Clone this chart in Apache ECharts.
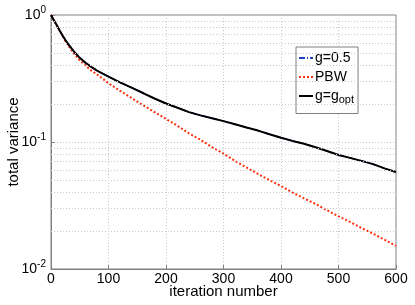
<!DOCTYPE html>
<html>
<head>
<meta charset="utf-8">
<script src="https://cdn.jsdelivr.net/npm/echarts@6/dist/echarts.min.js"></script>
<style>html,body{margin:0;padding:0;background:#fff;}#c{width:415px;height:305px;}</style>
</head>
<body>
<div id="c"></div>
<script>
var iters = [0,5,10,15,20,25,30,40,50,60,70,80,90,100,120,140,160,180,200,220,240,260,280,300,320,340,360,380,400,420,440,460,480,500,520,540,560,580,600];
var gOpt = [1.0,0.91,0.83,0.755,0.69,0.635,0.59,0.515,0.46,0.42,0.39,0.365,0.345,0.327,0.295,0.268,0.243,0.22,0.201,0.186,0.172,0.162,0.154,0.146,0.138,0.13,0.123,0.115,0.108,0.102,0.097,0.091,0.085,0.079,0.075,0.071,0.067,0.062,0.058];
var pbw = [1.0,0.91,0.83,0.75,0.685,0.625,0.575,0.495,0.44,0.40,0.365,0.34,0.315,0.29,0.253,0.222,0.195,0.172,0.152,0.134,0.117,0.104,0.091,0.081,0.071,0.063,0.056,0.05,0.045,0.040,0.036,0.0325,0.029,0.026,0.0235,0.021,0.019,0.017,0.0152];
var g05 = [1.0,0.91,0.83,0.755,0.69,0.635,0.59,0.515,0.46,0.42,0.39,0.365,0.345,0.327,0.295,0.268,0.243,0.22,0.201,0.186,0.172,0.162,0.154,0.146,0.138,0.13,0.123,0.115,0.108,0.102,0.097,0.091,0.085,0.079,0.075,0.071,0.067,0.062,0.058];
var minorGrid = [0.02,0.03,0.04,0.05,0.06,0.07,0.08,0.09,0.2,0.3,0.4,0.5,0.6,0.7,0.8,0.9];
var xTicks = [0,100,200,300,400,500,600];

function pairs(v){ return iters.map(function(x,i){ return [x, v[i]]; }); }
var font = 'Liberation Sans, Arial, sans-serif';
var chart = echarts.init(document.getElementById('c'), null, {renderer:'canvas'});
chart.setOption({
  animation: false,
  backgroundColor: '#fff',
  grid: {left: 51, right: 19, top: 15, bottom: 36, containLabel: false, outerBoundsMode: 'none',
    show: true, borderColor: '#808080', borderWidth: 1, backgroundColor: '#fff'},
  legend: {
    orient: 'vertical', left: 296, top: 47,
    backgroundColor: '#fff', borderColor: '#808080', borderWidth: 1,
    padding: [4, 4, 8, 2], itemGap: 5, itemWidth: 14, itemHeight: 13,
    itemStyle: {opacity: 0},
    textStyle: {fontFamily: font, fontSize: 14, color: '#000', padding: [0,0,0,-3],
      rich: {n: {fontFamily: font, fontSize: 14, color: '#000'}, sub: {fontFamily: font, fontSize: 11, color: '#000', padding: [8,0,0,0]}}},
    formatter: function(name){ return name === 'g=gopt' ? '{n|g=g}{sub|opt}' : name; },
    data: ['g=0.5', 'PBW', 'g=gopt']
  },
  xAxis: {
    type: 'value', min: 0, max: 600, interval: 100,
    name: 'iteration number', nameLocation: 'middle', nameGap: 15, nameMoveOverlap: false,
    nameTextStyle: {fontFamily: font, fontSize: 15, color: '#000'},
    axisLine: {show: true, lineStyle: {color: '#808080'}},
    axisTick: {show: true, inside: true, length: 4, lineStyle: {color: '#808080'}},
    axisLabel: {fontFamily: font, fontSize: 14, color: '#000', margin: 3,
      formatter: function(v){ return xTicks.indexOf(v) >= 0 ? String(v) : ''; }},
    splitLine: {show: true, lineStyle: {color: '#c8c8c8', type: [1, 2], width: 1}}
  },
  yAxis: {
    type: 'log', logBase: 10, min: 0.01, max: 1,
    name: 'total variance', nameLocation: 'middle', nameGap: 30, nameMoveOverlap: false,
    nameTextStyle: {fontFamily: font, fontSize: 15, color: '#000'},
    axisLine: {show: true, lineStyle: {color: '#808080'}},
    axisTick: {show: true, inside: true, length: 4, lineStyle: {color: '#808080'}},
    axisLabel: {fontFamily: font, fontSize: 14, color: '#000', margin: 5,
      formatter: function(v){ var e = Math.round(Math.log10(v)); return '{b|10}{s|' + e + '}'; },
      rich: {b: {fontFamily: font, fontSize: 14, color: '#000'}, s: {fontFamily: font, fontSize: 10, color: '#000', padding: [0,0,10,0]}}},
    splitLine: {show: true, lineStyle: {color: '#c8c8c8', type: [1, 2], width: 1}}
  },
  series: [
    {name: 'g=0.5', type: 'line', data: pairs(g05), symbol: 'none', z: 2,
     lineStyle: {color: '#1f3fbf', width: 1.5, type: [6, 2, 1, 2]}, itemStyle: {color: '#1f3fbf'},
     markLine: {silent: true, symbol: 'none', label: {show: false},
       lineStyle: {color: '#c8c8c8', type: [1, 2], width: 1},
       data: minorGrid.map(function(v){ return {yAxis: v}; })}},
    {name: 'PBW', type: 'line', data: pairs(pbw), symbol: 'none', z: 3,
     lineStyle: {color: '#ff3010', width: 2, type: [2, 2]}, itemStyle: {color: '#ff3010'}},
    {name: 'g=gopt', type: 'line', data: pairs(gOpt), symbol: 'none', z: 4,
     lineStyle: {color: '#000', width: 2, type: 'solid'}, itemStyle: {color: '#000'}}
  ]
});
</script>
</body>
</html>
